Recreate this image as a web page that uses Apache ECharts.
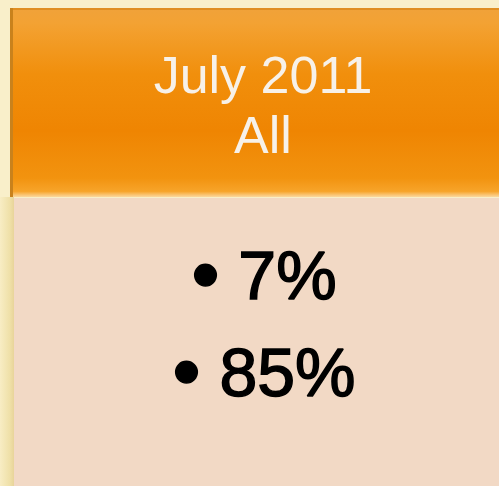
<!DOCTYPE html>
<html>
<head>
<meta charset="utf-8">
<script src="https://cdn.jsdelivr.net/npm/echarts@6/dist/echarts.min.js"></script>
<style>
  html, body { margin: 0; padding: 0; }
  #chart { width: 499px; height: 486px; }
</style>
</head>
<body>
<div id="chart"></div>
<script>
// header lines and bullet values
const headerLines = ['July 2011', 'All']
const bulletValues = ['7%', '85%']

const myChart = echarts.init(document.getElementById('chart'))

const W = 499, H = 486
const headTop = 8, headBottom = 197, headLeft = 10
const bodyLeft = 14

const graphics = [
  // cream slide background
  { type: 'rect', shape: { x: 0, y: 0, width: W, height: H }, style: { fill: '#f9efca' } },
  // soft shadow left of body
  {
    type: 'rect', shape: { x: 0, y: headBottom, width: bodyLeft, height: H - headBottom },
    style: {
      fill: new echarts.graphic.LinearGradient(0, 0, 1, 0, [
        { offset: 0, color: '#f8edc4' },
        { offset: 0.7, color: '#efe0a8' },
        { offset: 1, color: '#e8d49a' }
      ])
    }
  },
  // header
  {
    type: 'rect', shape: { x: headLeft, y: headTop, width: W - headLeft, height: headBottom - headTop },
    style: {
      fill: new echarts.graphic.LinearGradient(0, 0, 0, 1, [
        { offset: 0, color: '#f0a23a' },
        { offset: 0.08, color: '#f3a233' },
        { offset: 0.35, color: '#f18f0c' },
        { offset: 0.65, color: '#ef8502' },
        { offset: 0.9, color: '#f2930f' },
        { offset: 0.97, color: '#f7a42a' },
        { offset: 1, color: '#fbd8a0' }
      ])
    }
  },
  // darker top edge and left edge of header
  { type: 'rect', shape: { x: headLeft, y: headTop, width: W - headLeft, height: 2 }, style: { fill: '#e08e22' } },
  { type: 'rect', shape: { x: headLeft, y: headTop, width: 3, height: headBottom - headTop }, style: { fill: '#c9821c' } },
  // body
  { type: 'rect', shape: { x: bodyLeft, y: headBottom + 1, width: W - bodyLeft, height: H - headBottom }, style: { fill: '#f2d9c5' } }
]

headerLines.forEach((t, i) => {
  graphics.push({
    type: 'text',
    x: 263, y: 79 + i * 60,
    style: {
      text: t,
      font: '52px "Liberation Sans", Arial, sans-serif',
      fill: '#f7f1e9',
      align: 'center',
      verticalAlign: 'middle'
    }
  })
})

bulletValues.forEach((t, i) => {
  graphics.push({
    type: 'text',
    x: 264, y: 280 + i * 97,
    style: {
      text: '{b|\u2022} ' + t,
      font: '68px "Liberation Sans", Arial, sans-serif',
      fill: '#000',
      stroke: '#000',
      lineWidth: 1.5,
      align: 'center',
      verticalAlign: 'middle',
      rich: {
        b: { font: '80px "Liberation Sans", Arial, sans-serif', fill: '#000' }
      }
    }
  })
})

const option = {
  animation: false,
  graphic: graphics
}
option && myChart.setOption(option)
</script>
</body>
</html>
